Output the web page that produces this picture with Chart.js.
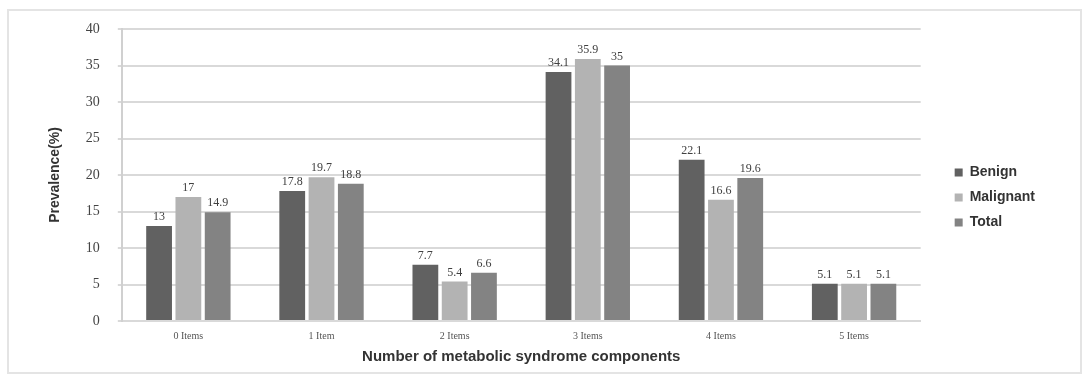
<!DOCTYPE html>
<html>
<head>
<meta charset="utf-8">
<script src="https://cdn.jsdelivr.net/npm/chart.js@4.4.0/dist/chart.umd.min.js"></script>
<style>
  body { margin: 0; background: #fff; }
  #wrap { position: relative; width: 1085px; height: 380px; }
  #frame { position: absolute; left: 7px; top: 9px; width: 1071px; height: 361px; border: 2px solid #e4e4e4; pointer-events: none; }
</style>
</head>
<body>
<div id="wrap">
  <canvas id="chart" width="1085" height="380"></canvas>
  <div id="frame"></div>
</div>
<script>
const categories = ["0 Items", "1 Item", "2 Items", "3 Items", "4 Items", "5 Items"];
const benign = [13, 17.8, 7.7, 34.1, 22.1, 5.1];
const malignant = [17, 19.7, 5.4, 35.9, 16.6, 5.1];
const total = [14.9, 18.8, 6.6, 35, 19.6, 5.1];
const yTicks = [0, 5, 10, 15, 20, 25, 30, 35, 40];

// small inline value-label plugin (no datalabels plugin available)
const valueLabels = {
  id: "valueLabels",
  afterDatasetsDraw(chart) {
    const ctx = chart.ctx;
    ctx.save();
    ctx.font = "12px 'Liberation Serif'";
    ctx.fillStyle = "#404040";
    ctx.textAlign = "center";
    ctx.textBaseline = "bottom";
    chart.data.datasets.forEach((ds, i) => {
      chart.getDatasetMeta(i).data.forEach((bar, j) => {
        ctx.fillText(String(ds.data[j]), bar.x, bar.y - 3);
      });
    });
    ctx.restore();
  }
};

const chart = new Chart(document.getElementById("chart"), {
  type: "bar",
  data: {
    labels: categories,
    datasets: [
      { label: "Benign", data: benign, backgroundColor: "#616161" },
      { label: "Malignant", data: malignant, backgroundColor: "#b3b3b3" },
      { label: "Total", data: total, backgroundColor: "#838383" }
    ]
  },
  options: {
    responsive: false,
    animation: false,
    layout: { padding: { left: 43, top: 29, right: 40, bottom: 14 } },
    datasets: { bar: { categoryPercentage: 0.66, barPercentage: 0.88 } },
    plugins: {
      tooltip: { enabled: false },
      legend: {
        position: "right",
        labels: {
          boxWidth: 8,
          boxHeight: 8,
          padding: 11,
          color: "#333",
          font: { family: "'Liberation Sans'", size: 14, weight: "bold" }
        }
      }
    },
    scales: {
      x: {
        grid: { display: false },
        border: { color: "#d9d9d9", width: 2 },
        ticks: { color: "#555", font: { family: "'Liberation Serif'", size: 10 }, padding: 1 },
        title: {
          display: true,
          text: "Number of metabolic syndrome components",
          color: "#333",
          font: { family: "'Liberation Sans'", size: 15, weight: "bold" },
          padding: { top: 5, bottom: 0 }
        }
      },
      y: {
        min: 0,
        max: 40,
        afterBuildTicks(scale) { scale.ticks = yTicks.map(v => ({ value: v })); },
        grid: { color: "#d9d9d9", lineWidth: 2, tickLength: 4 },
        border: { color: "#d0d0d0", width: 2 },
        ticks: { color: "#444", font: { family: "'Liberation Serif'", size: 14 }, padding: 18 },
        title: {
          display: true,
          text: "Prevalence(%)",
          color: "#333",
          font: { family: "'Liberation Sans'", size: 14, weight: "bold" },
          padding: 4
        }
      },
      // empty spacer axis: keeps the gap between plot and legend
      gap: {
        type: "linear",
        position: "right",
        grid: { display: false },
        border: { display: false },
        ticks: { display: false },
        afterFit(scale) { scale.width = 23; }
      }
    }
  },
  plugins: [valueLabels]
});
</script>
</body>
</html>
